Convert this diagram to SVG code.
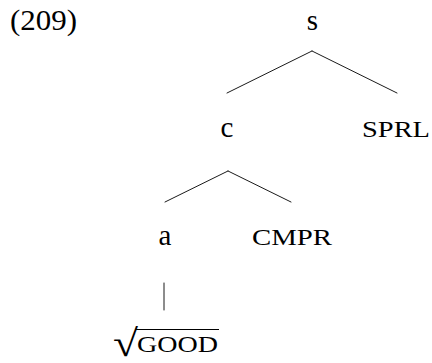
<svg xmlns="http://www.w3.org/2000/svg" width="432" height="363" viewBox="0 0 432 363">
  <style>
    text { font-family: "Liberation Serif", "Times New Roman", serif; fill: #000; }
    .lbl { font-size: 29px; text-anchor: middle; }
    .sc { font-size: 23px; text-anchor: middle; }
    .edge { stroke: #000; stroke-width: 0.9; fill: none; stroke-linecap: round; }
  </style>
  <rect width="432" height="363" fill="#fff"/>

  <!-- example number -->
  <text id="exnum" x="10" y="30" font-size="29" textLength="67" lengthAdjust="spacingAndGlyphs">(209)</text>

  <!-- tree branches -->
  <g id="connectors">
    <line class="edge" x1="312" y1="51" x2="227" y2="93"/>
    <line class="edge" x1="312" y1="51" x2="397" y2="93"/>
    <line class="edge" x1="228" y1="171" x2="165" y2="202"/>
    <line class="edge" x1="228" y1="171" x2="291" y2="202"/>
    <line class="edge" x1="164" y1="283" x2="164" y2="310"/>
  </g>

  <g id="node-s">
    <text class="lbl" x="312.5" y="30">s</text>
  </g>
  <g id="node-c">
    <text class="lbl" x="227" y="137">c</text>
  </g>
  <g id="node-sprl">
    <text class="sc" x="396" y="137" textLength="68" lengthAdjust="spacingAndGlyphs">SPRL</text>
  </g>
  <g id="node-a">
    <text class="lbl" x="165" y="245">a</text>
  </g>
  <g id="node-cmpr">
    <text class="sc" x="292" y="245" textLength="80" lengthAdjust="spacingAndGlyphs">CMPR</text>
  </g>
  <g id="node-root">
    <text x="113" y="356" font-size="38" textLength="25" lengthAdjust="spacingAndGlyphs">√</text>
    <line x1="136" y1="329.5" x2="219" y2="329.5" stroke="#000" stroke-width="1.2"/>
    <text class="sc" x="177.5" y="352" textLength="81" lengthAdjust="spacingAndGlyphs">GOOD</text>
  </g>
</svg>
